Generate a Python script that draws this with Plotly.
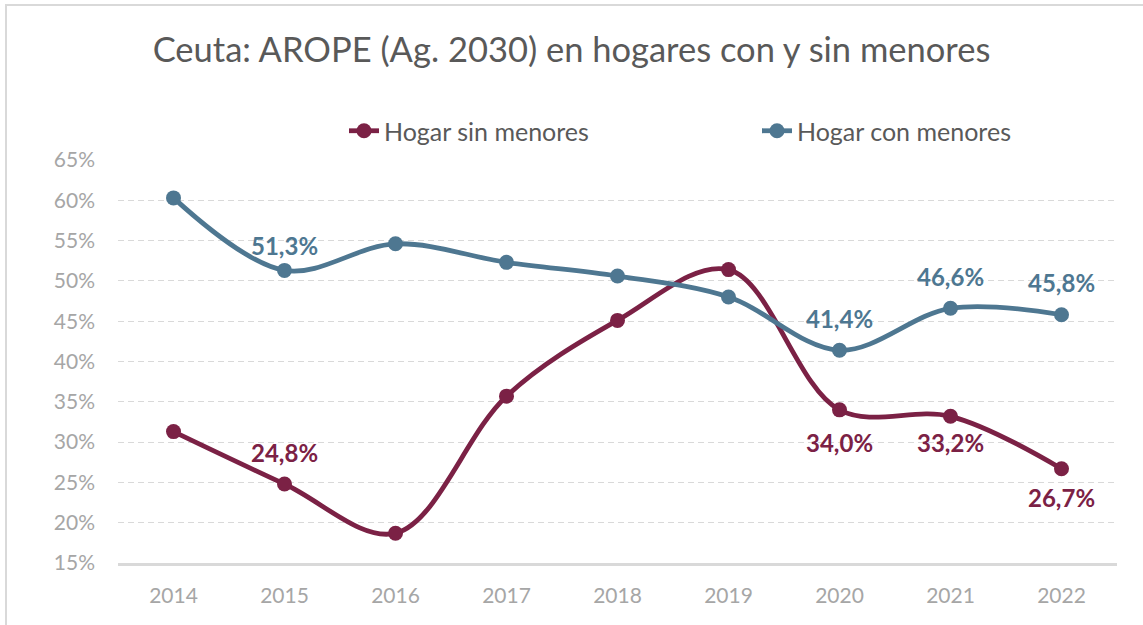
import plotly.graph_objects as go

years = ["2014", "2015", "2016", "2017", "2018", "2019", "2020", "2021", "2022"]
sin_menores = [31.3, 24.8, 18.7, 35.7, 45.1, 51.4, 34.0, 33.2, 26.7]
con_menores = [60.3, 51.3, 54.6, 52.3, 50.6, 48.0, 41.4, 46.6, 45.8]

# which points carry a data label, and the label's vertical offset in pixels (+ above, - below)
sin_labels = {"2015": 32, "2020": -33, "2021": -26, "2022": -29}
con_labels = {"2015": 25, "2020": 32, "2021": 32, "2022": 32}

y_ticks = [15, 20, 25, 30, 35, 40, 45, 50, 55, 60, 65]

MAROON = "#7B2145"
BLUE = "#4E7791"
FONT = "Lato"

fig = go.Figure()
fig.add_trace(go.Scatter(
    x=years, y=sin_menores, name="Hogar sin menores", mode="lines+markers",
    line=dict(color=MAROON, width=4.8, shape="spline", smoothing=1.0),
    marker=dict(color=MAROON, size=15),
))
fig.add_trace(go.Scatter(
    x=years, y=con_menores, name="Hogar con menores", mode="lines+markers",
    line=dict(color=BLUE, width=4.8, shape="spline", smoothing=1.0),
    marker=dict(color=BLUE, size=15),
))

def fmt(v):
    return f"{v:.1f}".replace(".", ",") + "%"

for series, labels, color in ((sin_menores, sin_labels, MAROON), (con_menores, con_labels, BLUE)):
    for i, (yr, v) in enumerate(zip(years, series)):
        if yr in labels:
            fig.add_annotation(
                x=i, y=v, xref="x", yref="y", text=fmt(v), showarrow=False,
                yshift=labels[yr],
                font=dict(family=FONT, size=24, color=color, weight="bold"),
            )

fig.update_layout(
    width=1143, height=625,
    margin=dict(l=118, r=26, t=160, b=62, autoexpand=False),
    paper_bgcolor="white", plot_bgcolor="white",
    title=dict(
        text="Ceuta: AROPE (Ag. 2030) en hogares con y sin menores",
        x=0.5, xref="container", xanchor="center",
        y=1 - 50 / 625, yref="container", yanchor="middle",
        font=dict(family=FONT, size=34.5, color="#595959"),
    ),
    legend=dict(
        orientation="h", x=(344 - 118) / 999, xanchor="left",
        y=(563 - 131) / 403, yanchor="middle",
        entrywidth=368, entrywidthmode="pixels",
        font=dict(family=FONT, size=25, color="#595959"),
        bgcolor="rgba(0,0,0,0)",
    ),
    showlegend=True,
)

fig.update_xaxes(
    type="category", range=[-0.5, 8.5],
    showgrid=False, showline=True, linecolor="#D9D9D9", linewidth=3,
    ticks="", tickfont=dict(family=FONT, size=21, color="#A6A6A6"),
    ticklabelstandoff=12, zeroline=False, automargin=False,
)
fig.update_yaxes(
    range=[15, 65], tickvals=y_ticks, ticktext=[f"{t}%" for t in y_ticks],
    showgrid=True, gridcolor="#D9D9D9", gridwidth=1.4, griddash="6px,4px",
    showline=False, zeroline=False, ticks="",
    tickfont=dict(family=FONT, size=21, color="#A6A6A6"),
    ticklabelstandoff=22, automargin=False,
)

# outer chart border (cut off at right and bottom)
fig.add_shape(type="rect", xref="paper", yref="paper",
              x0=(6 - 118) / 999, x1=(1150 - 118) / 999,
              y0=(563 - 640) / 403, y1=(563 - 5) / 403,
              line=dict(color="#D9D9D9", width=2), layer="below")

fig.write_html("out.html", config={"displayModeBar": False},
               post_script="document.body.style.margin='0';")
